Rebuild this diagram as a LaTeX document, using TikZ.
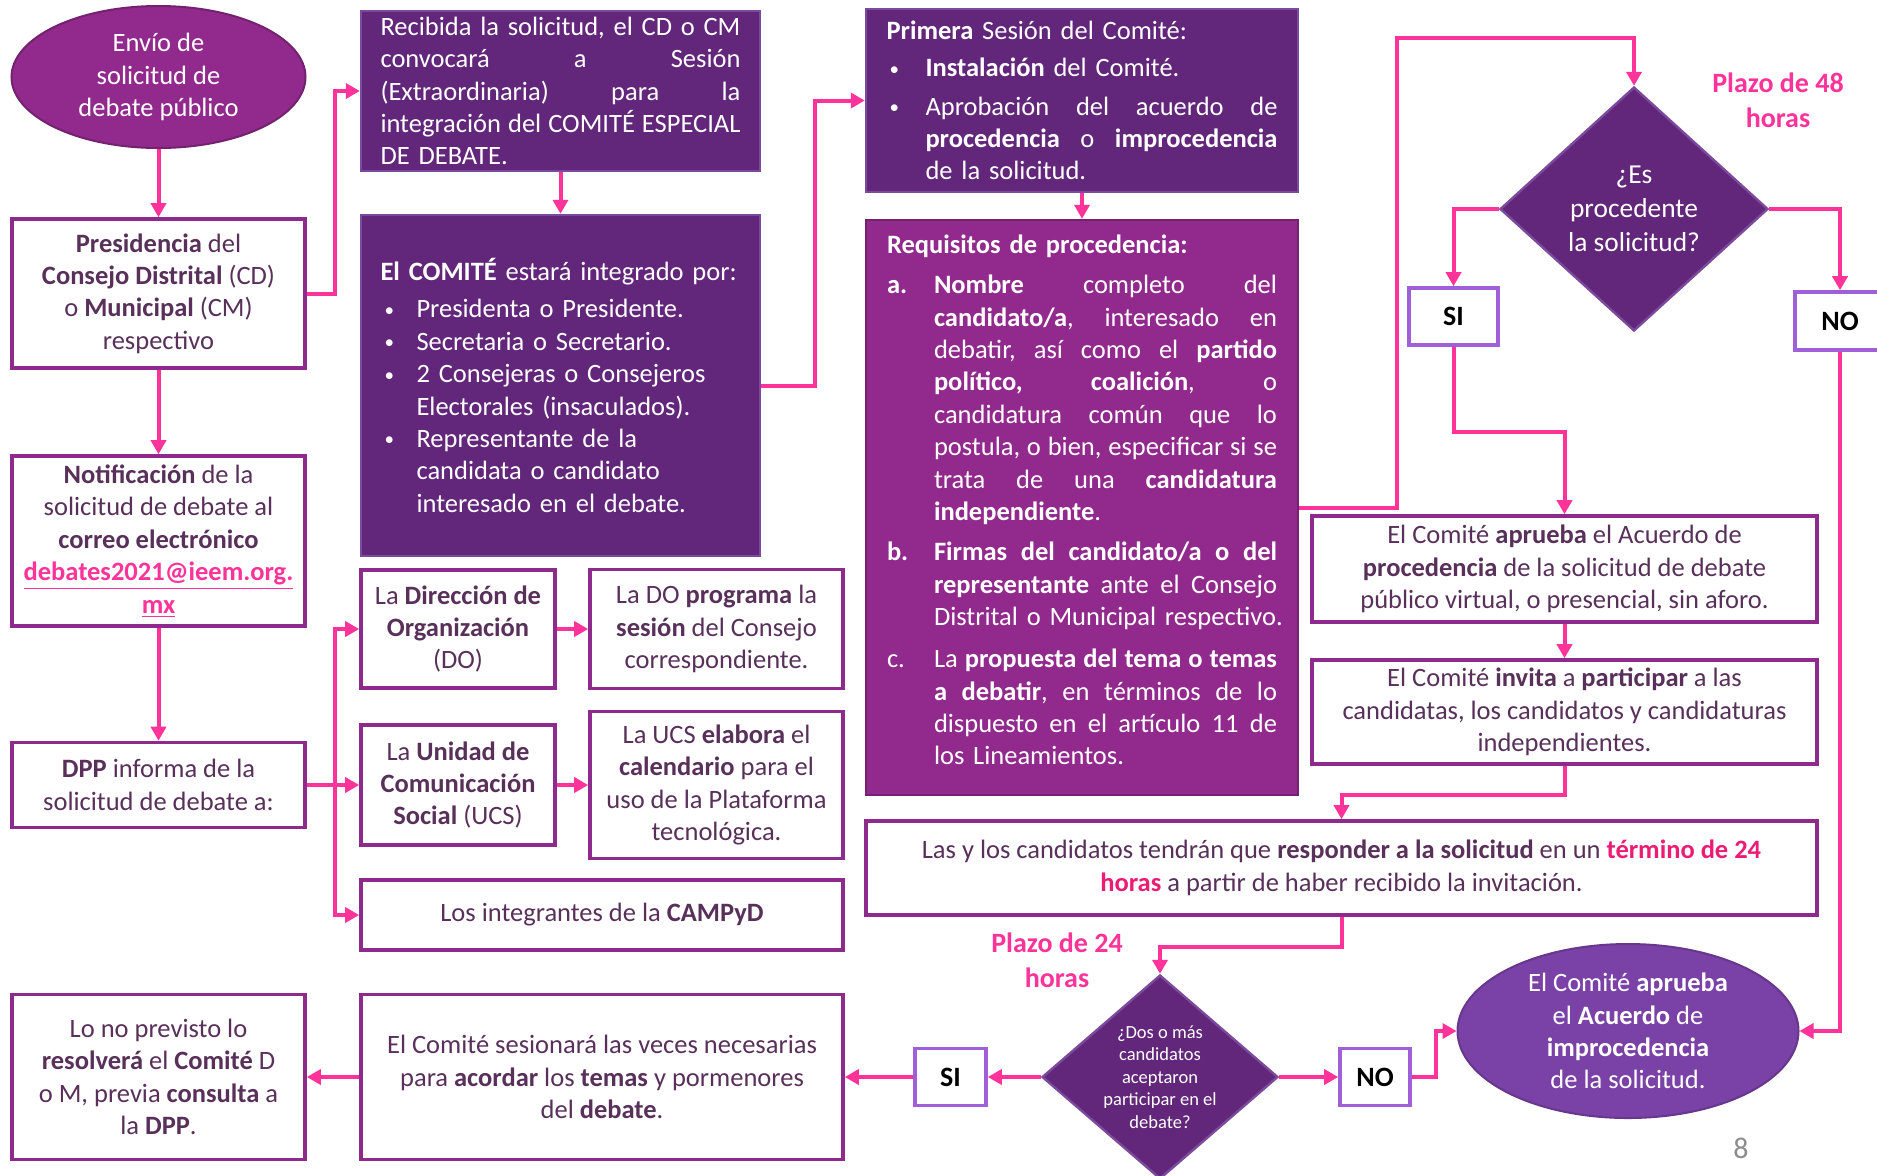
\documentclass[tikz,border=0pt]{standalone}
\usepackage{fontspec}
\setmainfont{Carlito}
\usepackage{tikz}
\usetikzlibrary{arrows.meta}
\usetikzlibrary{shapes.geometric}
\definecolor{darkpur}{HTML}{62267A}
\definecolor{darkedge}{HTML}{7B4A9C}
\definecolor{magpur}{HTML}{912A8C}
\definecolor{impur}{HTML}{7A41A6}
\definecolor{boxline}{HTML}{8E2A8C}
\definecolor{siline}{HTML}{9E5FD8}
\definecolor{arrowpink}{HTML}{FF3399}
\definecolor{redpink}{HTML}{EC1B74}
\definecolor{txt}{HTML}{58305A}
\definecolor{pagegray}{HTML}{8C8C8C}
\newcommand{\bodyfont}{\fontsize{13.25}{16.2}\selectfont}
\newcommand{\dotmark}{\raisebox{0.8pt}{\fontsize{9.5}{9.5}\selectfont\textbullet}}
\newcommand{\jrow}[3]{\noindent\makebox[#1][l]{#2}{\frenchspacing\spaceskip=\fontdimen2\font plus 1fil minus 0.35\fontdimen2\font\relax\hbox to \dimexpr\hsize-#1\relax{#3}}\par}
\newcommand{\rrow}[3]{\noindent\makebox[#1][l]{#2}\mbox{#3}\par}
\tikzstyle{line} = [draw=arrowpink, line width=2pt, -{Triangle[length=7pt,width=7.5pt]}]
\tikzset{
    whitebox/.style={draw=boxline, line width=1.8pt, fill=white, text=txt, align=center, inner sep=0pt, font=\bodyfont},
    darkbox/.style={draw=darkedge, line width=1.2pt, fill=darkpur, text=white, align=left, inner ysep=0pt, font=\bodyfont, execute at begin node=\selectfont},
    magbox/.style={darkbox, fill=magpur, draw=magpur!80!black},
    oval/.style={ellipse, line width=1pt, text=white, align=center, inner sep=0pt, font=\bodyfont},
    choice/.style={draw=siline, line width=1.8pt, fill=white, text=black, inner sep=0pt, font=\fontsize{14}{17}\selectfont\bfseries},
    question/.style={diamond, draw=darkedge, line width=1.2pt, fill=darkpur, text=white, align=center, inner sep=0pt},
    plazo/.style={text=arrowpink, align=center, font=\fontsize{14}{17.4}\selectfont\bfseries},
}

\begin{document}
\begin{tikzpicture}[x=0.5pt, y=-0.5pt, line width=1.0pt]
	\useasboundingbox (0,0) rectangle (1877,1175);
	\clip (0,0) rectangle (1877,1175);
	% left column
	\node[oval, fill=magpur, draw=magpur!80!black, minimum width=147pt, minimum height=71pt] (envio) at (158.5,77) {Envío de\\solicitud de\\debate público};
	\node[whitebox, minimum width=146.5pt, minimum height=74.5pt] (presid) at (158.5,293.5) {\textbf{Presidencia} del\\\textbf{Consejo Distrital} (CD)\\o \textbf{Municipal} (CM)\\respectivo};
	\node[whitebox, minimum width=146.5pt, minimum height=85pt] (notif) at (158.5,541) {\textbf{Notificación} de la\\solicitud de debate al\\\textbf{correo electrónico}\\\textcolor{arrowpink}{\underline{\textbf{debates2021@ieem.org.}}}\\\textcolor{arrowpink}{\underline{\textbf{mx}}}};
	\node[whitebox, minimum width=146.5pt, minimum height=42.5pt] (dpp) at (158.5,785) {\textbf{DPP} informa de la\\solicitud de debate a:};
	\node[whitebox, minimum width=146.5pt, minimum height=82.5pt] (lonoprev) at (158.5,1077) {Lo no previsto lo\\\textbf{resolverá} el \textbf{Comité} D\\o M, previa \textbf{consulta} a\\la \textbf{DPP}.};
	% second column
	\node[darkbox, text width=180pt, inner xsep=9.75pt, minimum height=80pt] (recibida) at (560.5,91) {%
		\jrow{0pt}{}{Recibida la solicitud, el CD o CM}
		\jrow{0pt}{}{convocará a Sesión}
		\jrow{0pt}{}{(Extraordinaria) para la}
		\jrow{0pt}{}{integración del COMITÉ ESPECIAL}
		\rrow{0pt}{}{DE DEBATE.}};
	\node[darkbox, text width=180pt, inner xsep=9.75pt, minimum height=170.5pt] (comite) at (560.5,385.5) {%
		\rrow{0pt}{}{\textbf{El COMITÉ} estará integrado por:}\vspace{2.4pt}
		\rrow{18pt}{\hspace{2pt}\dotmark}{Presidenta o Presidente.}
		\rrow{18pt}{\hspace{2pt}\dotmark}{Secretaria o Secretario.}
		\rrow{18pt}{\hspace{2pt}\dotmark}{2 Consejeras o Consejeros}
		\rrow{18pt}{}{Electorales (insaculados).}
		\rrow{18pt}{\hspace{2pt}\dotmark}{Representante de la}
		\rrow{18pt}{}{candidata o candidato}
		\rrow{18pt}{}{interesado en el debate.}};
	\node[whitebox, minimum width=97pt, minimum height=59pt] (do) at (458,629) {La \textbf{Dirección de}\\\textbf{Organización}\\(DO)};
	\node[whitebox, minimum width=126.5pt, minimum height=59.5pt] (doprog) at (716.5,629) {La DO \textbf{programa} la\\\textbf{sesión} del Consejo\\correspondiente.};
	\node[whitebox, minimum width=97pt, minimum height=60pt] (ucs) at (458,785) {La \textbf{Unidad de}\\\textbf{Comunicación}\\\textbf{Social} (UCS)};
	\node[whitebox, minimum width=126.5pt, minimum height=73.5pt] (ucselab) at (716.5,785) {La UCS \textbf{elabora} el\\\textbf{calendario} para el\\uso de la Plataforma\\tecnológica.};
	\node[whitebox, minimum width=241pt, minimum height=35pt] (campyd) at (602,915) {Los integrantes de la \textbf{CAMPyD}};
	\node[whitebox, minimum width=241pt, minimum height=82.5pt] (sesion) at (602,1077) {El Comité sesionará las veces necesarias\\para \textbf{acordar} los \textbf{temas} y pormenores\\del \textbf{debate}.};
	% third column
	\node[darkbox, text width=195.5pt, inner xsep=10.25pt, minimum height=91.5pt] (primera) at (1082,100.5) {%
		\rrow{0pt}{}{\textbf{Primera} Sesión del Comité:}\vspace{2.3pt}
		\rrow{19.5pt}{\hspace{1.5pt}\dotmark}{\textbf{Instalación} del Comité.}\vspace{3pt}
		\jrow{19.5pt}{\hspace{1.5pt}\dotmark}{Aprobación del acuerdo de}
		\jrow{19.5pt}{}{\textbf{procedencia} o \textbf{improcedencia}}
		\rrow{19.5pt}{}{de la solicitud.}};
	\node[magbox, text width=195pt, inner xsep=10.5pt, minimum height=287.5pt] (requis) at (1082,507.5) {%
		\rrow{0pt}{}{\textbf{Requisitos de procedencia:}}\vspace{3.8pt}
		\jrow{23.5pt}{\textbf{a.}}{\textbf{Nombre} completo del}
		\jrow{23.5pt}{}{\textbf{candidato/a}, interesado en}
		\jrow{23.5pt}{}{debatir, así como el \textbf{partido}}
		\jrow{23.5pt}{}{\textbf{político,} \textbf{coalición}, o}
		\jrow{23.5pt}{}{candidatura común que lo}
		\jrow{23.5pt}{}{postula, o bien, especificar si se}
		\jrow{23.5pt}{}{trata de una \textbf{candidatura}}
		\rrow{23.5pt}{}{\textbf{independiente}.}\vspace{4pt}
		\jrow{23.5pt}{\textbf{b.}}{\textbf{Firmas del candidato/a o del}}
		\jrow{23.5pt}{}{\textbf{representante} ante el Consejo}
		\rrow{23.5pt}{}{Distrital o Municipal respectivo.}\vspace{4.8pt}
		\jrow{23.5pt}{c.}{La \textbf{propuesta del tema o temas}}
		\jrow{23.5pt}{}{\textbf{a debatir}, en términos de lo}
		\jrow{23.5pt}{}{dispuesto en el artículo 11 de}
		\rrow{23.5pt}{}{los Lineamientos.}\vspace{7.5pt}};
	\node[whitebox, minimum width=475.5pt, minimum height=47pt] (lasylos) at (1341.5,868) {Las y los candidatos tendrán que \textbf{responder a la solicitud} en un \textcolor{redpink}{\textbf{término de 24}}\\\textcolor{redpink}{\textbf{horas}} a partir de haber recibido la invitación.};
	\node[question, minimum width=118pt, minimum height=102pt, inner sep=-4pt, font=\fontsize{9.25}{11.2}\selectfont] (dosomas) at (1160,1077) {¿Dos o más\\candidatos\\aceptaron\\participar en el\\debate?};
	\node[choice, minimum width=35.5pt, minimum height=28.5pt] (si2) at (950.5,1077) {SI};
	\node[choice, minimum width=35pt, minimum height=28.5pt] (no2) at (1375,1077) {NO};
	\node[plazo] (plazo24) at (1057,960) {Plazo de 24\\horas};
	% right column
	\node[question, minimum width=134pt, minimum height=122pt, font=\fontsize{13.7}{17}\selectfont] (esproc) at (1634,209) {¿Es\\procedente\\la solicitud?};
	\node[plazo] (plazo48) at (1778,100.5) {Plazo de 48\\horas};
	\node[choice, minimum width=44.5pt, minimum height=28.5pt] (si1) at (1453.5,316.5) {SI};
	\node[choice, minimum width=45pt, minimum height=29pt] (no1) at (1840,321) {NO};
	\node[whitebox, minimum width=252.5pt, minimum height=53pt] (aprueba) at (1564.5,569) {El Comité \textbf{aprueba} el Acuerdo de\\\textbf{procedencia} de la solicitud de debate\\público virtual, o presencial, sin aforo.};
	\node[whitebox, minimum width=252.5pt, minimum height=52pt] (invita) at (1564.5,712) {El Comité \textbf{invita} a \textbf{participar} a las\\candidatas, los candidatos y candidaturas\\independientes.};
	\node[oval, fill=impur, draw=impur!85!black, minimum width=170.5pt, minimum height=87pt] (improc) at (1628,1031) {El Comité \textbf{aprueba}\\el \textbf{Acuerdo} de\\\textbf{improcedencia}\\de la solicitud.};
	\node[text=pagegray, font=\fontsize{15}{18}\selectfont] (pagenum) at (1741,1148) {8};

	\draw[line] (envio.south) -- (presid.north);
	\draw[line] (presid.south) -- (notif.north);
	\draw[line] (notif.south) -- (dpp.north);
	\draw[line] (presid.east) -- ++(14pt,0pt) |- (recibida.west);
	\draw[line] (recibida.south) -- (comite.north);
	\draw[line] (comite.east) -- ++(27pt,0pt) |- (primera.west);
	\coordinate (split) at ([xshift=14pt]dpp.east);
	\draw[line] (dpp.east) -- (ucs.west);
	\draw[line] (split) |- (do.west);
	\draw[line] (split) |- (campyd.west);
	\draw[line] (do.east) -- (doprog.west);
	\draw[line] (ucs.east) -- (ucselab.west);
	\draw[line] (primera.south) -- (requis.north);
	\draw[line] (requis.east) -- ++(49pt,0pt) |- ([yshift=24pt]esproc.north) -- (esproc.north);
	\draw[line] (esproc.west) -| (si1.north);
	\draw[line] (esproc.east) -| (no1.north);
	\draw[line] (si1.south) -- ++(0pt,-42.5pt) -| (aprueba.north);
	\draw[line] (aprueba.south) -- (invita.north);
	\draw[line] (invita.south) -- ++(0pt,-14.5pt) -| (lasylos.north);
	\draw[line] (lasylos.south) -- ++(0pt,-15pt) -| (dosomas.north);
	\draw[line] (dosomas.west) -- (si2.east);
	\draw[line] (si2.west) -- (sesion.east);
	\draw[line] (sesion.west) -- (lonoprev.east);
	\draw[line] (dosomas.east) -- (no2.west);
	\draw[line] (no2.east) -- ++(12pt,0pt) |- (improc.west);
	\draw[line] (no1.south) |- (improc.east);
\end{tikzpicture}
\end{document}
